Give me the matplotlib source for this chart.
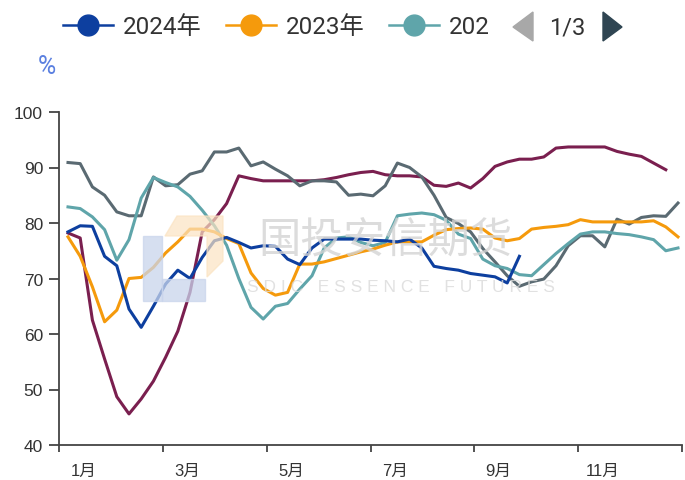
import matplotlib
matplotlib.use("Agg")
import matplotlib.pyplot as plt
from matplotlib.lines import Line2D
from matplotlib.patches import Polygon, Rectangle
import numpy as np

plt.rcParams['font.family'] = ['Noto Sans CJK SC', 'DejaVu Sans']

# ---- data ----
s2024 = [78.4, 79.5, 79.4, 74.0, 72.3, 64.5, 61.2, 65.0, 69.0, 71.5, 70.0, 73.8, 76.8, 77.4,
         76.5, 75.5, 75.9, 75.8, 73.5, 72.5, 75.5, 77.1, 77.1, 77.1, 77.1, 76.9, 76.8, 76.6,
         77.1, 75.5, 72.2, 71.8, 71.5, 70.9, 70.6, 70.3, 69.2, 74.0]
s2023 = [77.5, 74.0, 68.5, 62.2, 64.3, 70.0, 70.2, 72.0, 74.6, 76.6, 78.9, 78.9, 78.4, 77.2,
         76.3, 71.0, 68.2, 67.0, 67.5, 72.6, 72.6, 73.0, 73.6, 74.2, 74.8, 75.3, 76.0, 76.6,
         76.6, 76.6, 77.8, 78.8, 79.0, 79.1, 78.9, 77.3, 76.8, 77.2, 78.9, 79.2, 79.4, 79.7,
         80.6, 80.2, 80.2, 80.2, 80.2, 80.2, 80.4, 79.3, 77.5]
s2022 = [82.9, 82.6, 81.1, 78.8, 73.3, 77.0, 84.5, 88.2, 87.3, 86.5, 84.8, 82.3, 79.5, 76.0,
         70.0, 64.8, 62.7, 65.0, 65.5, 68.1, 70.5, 75.5, 77.3, 77.5, 76.5, 75.9, 76.5, 81.3,
         81.6, 81.8, 81.5, 80.5, 78.0, 77.2, 73.5, 72.3, 71.8, 70.7, 70.5, 72.5, 74.5, 76.3,
         78.0, 78.4, 78.4, 78.1, 77.9, 77.5, 77.0, 75.0, 75.5]
s2021 = [90.9, 90.7, 86.5, 85.0, 82.0, 81.3, 81.3, 88.3, 86.7, 86.9, 88.8, 89.4, 92.8, 92.8,
         93.5, 90.3, 91.0, 89.7, 88.5, 86.7, 87.6, 87.6, 87.4, 85.0, 85.2, 84.9, 86.7, 90.8,
         90.0, 88.3, 85.0, 81.0, 79.9, 78.4, 75.4, 73.0, 70.5, 68.6, 69.4, 69.9, 72.3, 75.9,
         77.7, 77.7, 75.7, 80.7, 79.8, 81.0, 81.3, 81.2, 83.6]
s2020 = [78.2, 77.3, 62.5, 55.5, 48.7, 45.6, 48.3, 51.5, 55.8, 60.5, 67.5, 78.4, 80.6, 83.5,
         88.5, 88.0, 87.6, 87.6, 87.6, 87.6, 87.6, 87.8, 88.2, 88.7, 89.1, 89.3, 88.7, 88.5,
         88.5, 88.3, 86.8, 86.6, 87.2, 86.3, 88.0, 90.2, 91.0, 91.5, 91.5, 91.9, 93.5, 93.7,
         93.7, 93.7, 93.7, 92.9, 92.4, 92.0, 90.8, 89.6]

series = [
    ("2020年", s2020, "#7a1f4f"),
    ("2021年", s2021, "#5a6a72"),
    ("2022年", s2022, "#5fa5aa"),
    ("2023年", s2023, "#f59a0c"),
    ("2024年", s2024, "#0d3f9f"),
]
month_labels = ["1月", "3月", "5月", "7月", "9月", "11月"]
yticks = [40, 50, 60, 70, 80, 90, 100]
legend_labels = ["2024年", "2023年", "202"]

W, H = 685, 481
fig = plt.figure(figsize=(W / 100, H / 100), dpi=100)
ax = fig.add_axes([59 / W, 1 - 446 / H, (682 - 59) / W, (446 - 113) / H])

# watermark logo + text (decoration, pixel coordinates)
def px(x, y):
    return (x, H - y)
fig.patches.append(Rectangle(px(143, 302), 19, 65, transform=None, color="#c9d5ec", alpha=0.75, zorder=0))
fig.patches.append(Rectangle(px(162, 302), 43, 22, transform=None, color="#c9d5ec", alpha=0.75, zorder=0))
fig.patches.append(Polygon([px(165, 237), px(177, 217), px(223, 217), px(223, 262), px(207, 278), px(207, 237)],
                           closed=True, transform=None, color="#fbe3c2", alpha=0.7, zorder=0))
fig.text(385 / W, 1 - 242 / H, "国投安信期货", fontsize=30.5, color="#d4d4d4", alpha=0.8,
         ha="center", va="center", zorder=0)
fig.text(401 / W, 1 - 288 / H, "S D I C   E S S E N C E   F U T U R E S", fontsize=12.5,
         color="#dadada", alpha=0.8, ha="center", va="center", zorder=0,
         family=["Liberation Sans", "DejaVu Sans"])

ax.patch.set_alpha(0)
for name, vals, col in series:
    x = np.arange(1, len(vals) + 1)
    ax.plot(x, vals, color=col, lw=2.2, solid_joinstyle="round", zorder=3)

x0 = 1 - (68 - 59) / 12.2
x1 = 1 + (682 - 68) / 12.2
ax.set_xlim(x0, x1)
ax.set_ylim(40, 100)
step = (x1 - x0) / 12
major = [x0 + k * step for k in range(0, 13, 2)]
ax.set_xticks(major)
ax.set_xticklabels([""] * len(major))
ax.set_xticks([m + step * 0.47 for m in major[:-1]], minor=True)
ax.set_xticklabels(month_labels, minor=True, family=["Liberation Sans", "Noto Sans CJK SC"])
ax.tick_params(axis="x", which="minor", length=0, pad=13, labelsize=12, labelcolor="#333333")
ax.tick_params(axis="x", which="major", length=5, width=1.3, color="#444444", direction="out")
ax.set_yticks(yticks)
ax.set_yticklabels([str(v) for v in yticks], family=["Liberation Sans", "DejaVu Sans"])
ax.tick_params(axis="y", length=7.5, width=1.3, color="#444444", labelsize=12.5, labelcolor="#333333", pad=4)
for sp in ["top", "right"]:
    ax.spines[sp].set_visible(False)
for sp in ["left", "bottom"]:
    ax.spines[sp].set_color("#444444")
    ax.spines[sp].set_linewidth(1.3)

# legend (paged: first three entries)
handles = [Line2D([], [], color=c, lw=1.8, marker="o", markersize=15) for _, _, c in series[::-1][:3]]
fig.legend(handles, legend_labels, loc="center left", bbox_to_anchor=(63 / W, 1 - 28 / H), ncol=3,
           frameon=False, prop={"family": ["Roboto", "Noto Sans CJK SC"], "size": 17.5},
           handlelength=2.06, handletextpad=0.41, columnspacing=0.99, labelcolor="#333333",
           borderpad=0, borderaxespad=0)
fig.patches.append(Polygon([px(533, 13), px(533, 42), px(513, 28)], closed=True, transform=None, color="#a8a8a8"))
fig.text(567 / W, 1 - 28 / H, "1/3", fontsize=17, color="#333333", ha="center", va="center",
         family=["Roboto", "DejaVu Sans"])
fig.patches.append(Polygon([px(603, 13), px(603, 42), px(622, 28)], closed=True, transform=None, color="#2f4552"))
fig.text(47 / W, 1 - 67 / H, "%", fontsize=18, color="#5b80e0", ha="center", va="center",
         family=["Roboto", "DejaVu Sans"])

fig.savefig("out.png", dpi=100)
